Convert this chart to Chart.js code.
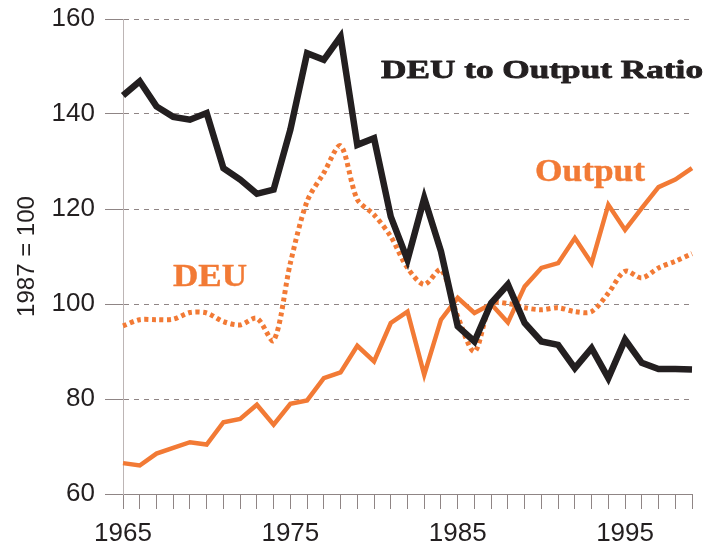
<!DOCTYPE html>
<html>
<head>
<meta charset="utf-8">
<script src="https://cdn.jsdelivr.net/npm/chart.js@4/dist/chart.umd.min.js"></script>
<style>
  html, body { margin: 0; padding: 0; background: #ffffff; }
  #wrap { width: 706px; height: 548px; }
</style>
</head>
<body>
<div id="wrap"><canvas id="c" width="706" height="548"></canvas></div>
<script>
const years = [1965,1966,1967,1968,1969,1970,1971,1972,1973,1974,
               1975,1976,1977,1978,1979,1980,1981,1982,1983,1984,
               1985,1986,1987,1988,1989,1990,1991,1992,1993,1994,
               1995,1996,1997,1998,1999];
const xTickLabels = [1965, 1975, 1985, 1995];
const yTicks = [60, 80, 100, 120, 140, 160];

const ratio = [143.9,146.9,141.6,139.4,138.8,140.2,128.6,126.2,123.2,124.1,
               136.7,152.8,151.4,156.3,133.5,134.9,118.4,109.3,122.3,111.1,
               95.3,92.1,100.2,104.1,96.0,92.1,91.4,86.5,90.7,84.4,
               92.5,87.6,86.3,86.3,86.2];
const output = [66.5,66.0,68.5,69.7,70.9,70.4,75.1,75.8,78.8,74.6,
                79.0,79.7,84.4,85.6,91.2,87.9,96.0,98.4,85.1,96.7,
                101.3,98.1,100.0,96.1,103.7,107.6,108.6,113.9,108.6,120.9,
                115.6,120.2,124.6,126.2,128.6];
const deu = [95.4,96.7,96.7,96.8,98.2,98.1,96.3,95.6,97.0,92.3,
             108.6,121.6,127.6,133.3,122.0,118.8,114.2,107.6,104.1,107.2,
             97.4,90.0,100.0,100.1,99.2,98.8,99.2,98.4,98.4,102.3,
             106.9,105.5,107.6,109.0,110.6];

const labelsText = {
  title: "DEU to Output Ratio",
  output: "Output",
  deu: "DEU",
  yTitle: "1987 = 100"
};

const ORANGE = '#f27a35';
const BLACK = '#231f20';
const GRID = '#8f8585';
const SERIF = '"Liberation Serif", "DejaVu Serif", serif';

function stretchedText(ctx, text, x, y, width, stroke) {
  const w = ctx.measureText(text).width;
  ctx.save();
  ctx.translate(x, y);
  ctx.scale(width / w, 1);
  ctx.fillText(text, 0, 0);
  if (stroke) {
    ctx.lineWidth = stroke;
    ctx.strokeStyle = ctx.fillStyle;
    ctx.lineJoin = 'round';
    ctx.strokeText(text, 0, 0);
  }
  ctx.restore();
}

const annotations = {
  id: 'annotations',
  afterDatasetsDraw(chart) {
    const ctx = chart.ctx;
    ctx.save();
    ctx.textBaseline = 'alphabetic';
    ctx.textAlign = 'left';
    ctx.font = 'bold 26px ' + SERIF;
    ctx.fillStyle = BLACK;
    stretchedText(ctx, labelsText.title, 381, 78, 322, 0.8);
    ctx.font = 'bold 31px ' + SERIF;
    ctx.fillStyle = ORANGE;
    stretchedText(ctx, labelsText.output, 535, 181, 110, 0.4);
    stretchedText(ctx, labelsText.deu, 173, 286, 74, 0.4);
    ctx.restore();
  }
};

new Chart(document.getElementById('c'), {
  type: 'line',
  data: {
    labels: years,
    datasets: [
      { label: 'DEU to Output Ratio', data: ratio, borderColor: BLACK, borderWidth: 6.5,
        pointRadius: 0, tension: 0, order: 0, borderJoinStyle: 'miter', fill: false },
      { label: 'Output', data: output, borderColor: ORANGE, borderWidth: 4.5,
        pointRadius: 0, tension: 0, order: 1, fill: false },
      { label: 'DEU', data: deu, borderColor: ORANGE, borderWidth: 5, borderDash: [4, 3.5],
        borderCapStyle: 'butt', pointRadius: 0, tension: 0.3, order: 2, fill: false }
    ]
  },
  options: {
    responsive: false,
    animation: false,
    events: [],
    layout: { padding: { left: 0, right: 14, top: 19, bottom: 0 } },
    plugins: { legend: { display: false }, tooltip: { enabled: false }, title: { display: false } },
    scales: {
      x: {
        type: 'category',
        offset: false,
        grid: { drawOnChartArea: false, drawTicks: true, tickLength: 15, tickColor: GRID, tickWidth: 1, offset: false },
        border: { display: true, color: GRID, width: 1 },
        ticks: {
          autoSkip: false, maxRotation: 0, minRotation: 0, padding: 9,
          color: BLACK,
          font: { family: '"Liberation Sans", Arial, sans-serif', size: 26 },
          callback: function(val, i) { return xTickLabels.includes(years[i]) ? String(years[i]) : ''; }
        },
        afterFit(scale) { scale.height = 54; scale.paddingLeft = 0; scale.paddingRight = 0; }
      },
      y: {
        min: 60, max: 160,
        afterBuildTicks(scale) { scale.ticks = yTicks.map(v => ({ value: v })); },
        grid: { color: GRID, lineWidth: 1, drawTicks: true, tickLength: 18, tickColor: GRID, tickBorderDash: [] },
        border: { display: true, color: '#bdb5b5', width: 1, dash: [5, 5] },
        ticks: {
          padding: 10, color: BLACK,
          font: { family: '"Liberation Sans", Arial, sans-serif', size: 26 }
        },
        title: {
          display: true, text: labelsText.yTitle, color: BLACK,
          font: { family: '"Liberation Sans", Arial, sans-serif', size: 24 },
          padding: { top: 13, bottom: 0 }
        },
        afterFit(scale) { scale.width = 123; scale.paddingTop = 0; scale.paddingBottom = 0; }
      }
    }
  },
  plugins: [annotations]
});
</script>
</body>
</html>
